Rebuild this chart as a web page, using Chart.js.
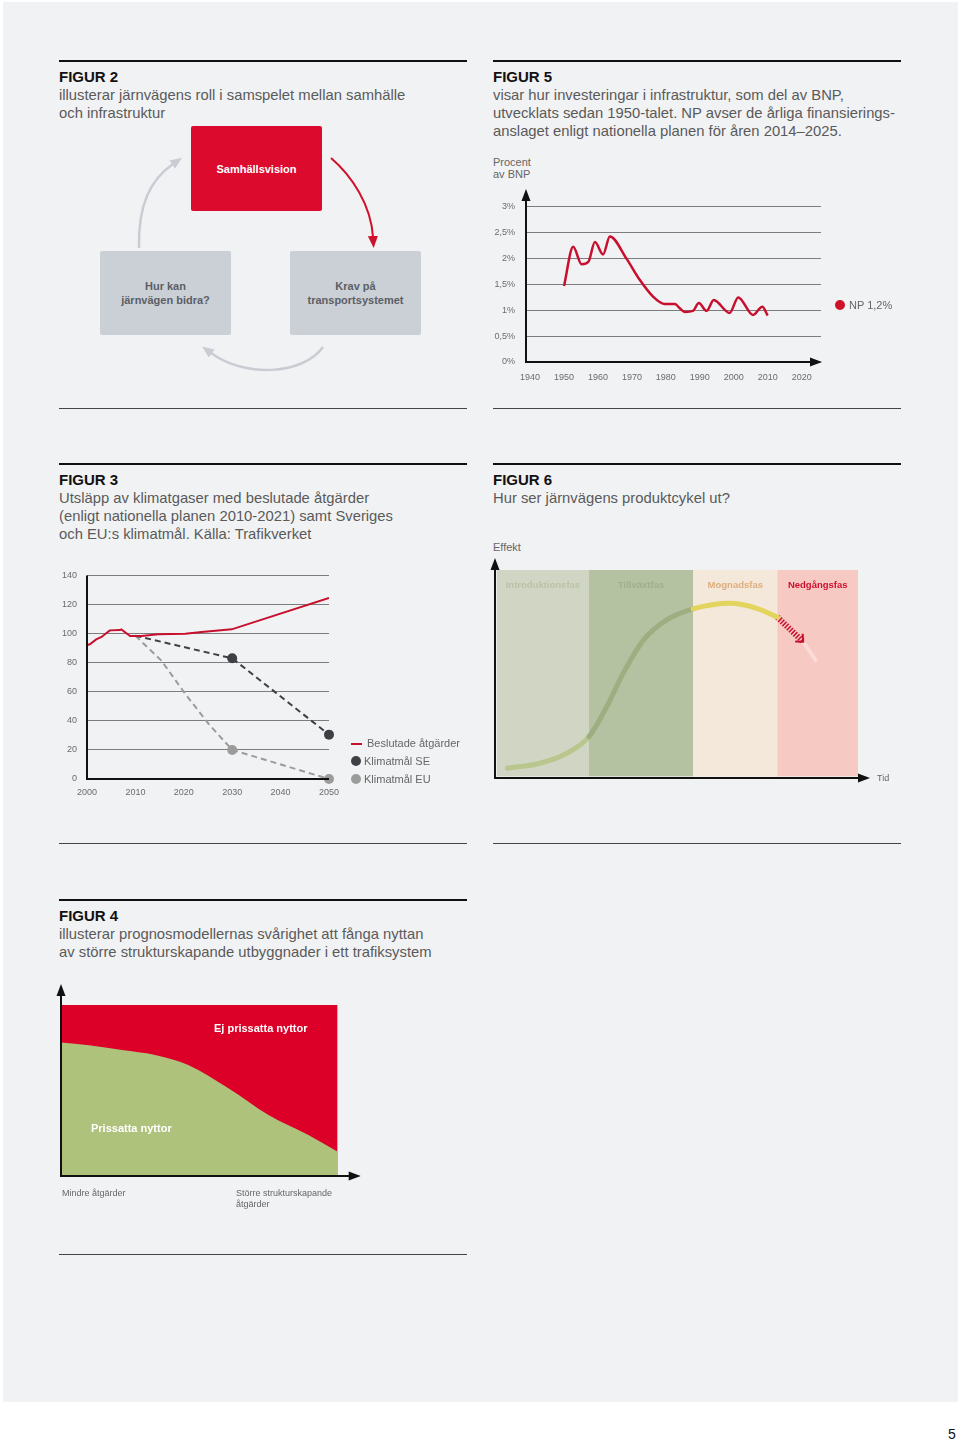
<!DOCTYPE html>
<html lang="sv">
<head>
<meta charset="utf-8">
<title>Figurer</title>
<script src="https://cdn.jsdelivr.net/npm/chart.js@4.4.1/dist/chart.umd.min.js"></script>
<style>
  html, body { margin: 0; padding: 0; }
  body { width: 960px; height: 1443px; position: relative; overflow: hidden; background: #fff;
         font-family: 'Liberation Sans', Arial, sans-serif; }
  .sida { position: absolute; left: 3px; top: 2px; width: 955px; height: 1400px; background: #f1f2f4; }
  .abs { position: absolute; }
  canvas { position: absolute; }
  .regel { position: absolute; width: 408px; height: 2px; background: #111; }
  .regel.tunn { height: 1px; background: #444; }
  .rubrik { position: absolute; width: 440px; font-size: 14.8px; line-height: 18px; color: #5a5a5a; }
  .rubrik b { display: block; color: #111; font-weight: 900; font-size: 15px; }
  .liten { position: absolute; font-size: 11px; line-height: 12px; color: #666; white-space: nowrap; }
  .pytte { position: absolute; font-size: 9px; line-height: 11px; color: #666; white-space: nowrap; }
  .ruta { position: absolute; width: 131px; height: 84px; border-radius: 2px; display: flex;
          align-items: center; justify-content: center; text-align: center;
          font-size: 11px; line-height: 14px; font-weight: bold; }
  .ruta.rod { background: #dc0a2d; color: #fff; }
  .ruta.gra { background: #cbcfd6; color: #5b5f66; }
  .prick { position: absolute; border-radius: 50%; }
  .vit { position: absolute; color: #fff; font-size: 11px; font-weight: bold; white-space: nowrap; line-height: 14px; }
</style>
</head>
<body>
<div class="sida"></div>

<!-- === Regler === -->
<div class="regel" style="left:59px;top:60px"></div>
<div class="regel" style="left:493px;top:60px"></div>
<div class="regel tunn" style="left:59px;top:408px"></div>
<div class="regel tunn" style="left:493px;top:408px"></div>
<div class="regel" style="left:59px;top:463px"></div>
<div class="regel" style="left:493px;top:463px"></div>
<div class="regel tunn" style="left:59px;top:843px"></div>
<div class="regel tunn" style="left:493px;top:843px"></div>
<div class="regel" style="left:59px;top:899px"></div>
<div class="regel tunn" style="left:59px;top:1254px"></div>

<!-- === Rubriker === -->
<div class="rubrik" style="left:59px;top:68px"><b>FIGUR 2</b>illusterar järnvägens roll i samspelet mellan samhälle<br>och infrastruktur</div>
<div class="rubrik" style="left:493px;top:68px"><b>FIGUR 5</b>visar hur investeringar i infrastruktur, som del av BNP,<br>utvecklats sedan 1950-talet. NP avser de årliga finansierings-<br>anslaget enligt nationella planen för åren 2014–2025.</div>
<div class="rubrik" style="left:59px;top:471px"><b>FIGUR 3</b>Utsläpp av klimatgaser med beslutade åtgärder<br>(enligt nationella planen 2010-2021) samt Sveriges<br>och EU:s klimatmål. Källa: Trafikverket</div>
<div class="rubrik" style="left:493px;top:471px"><b>FIGUR 6</b>Hur ser järnvägens produktcykel ut?</div>
<div class="rubrik" style="left:59px;top:907px"><b>FIGUR 4</b>illusterar prognosmodellernas svårighet att fånga nyttan<br>av större strukturskapande utbyggnader i ett trafiksystem</div>

<!-- === Figur 2: diagram === -->
<svg class="abs" style="left:0;top:0" width="480" height="420">
  <defs>
    <marker id="pilRod" viewBox="0 0 12 10" refX="1" refY="5" markerWidth="12" markerHeight="10" markerUnits="userSpaceOnUse" orient="auto">
      <path d="M0,0 L12,5 L0,10 z" fill="#d0112b"/>
    </marker>
    <marker id="pilGra" viewBox="0 0 12 10" refX="1" refY="5" markerWidth="12" markerHeight="10" markerUnits="userSpaceOnUse" orient="auto">
      <path d="M0,0 L12,5 L0,10 z" fill="#c9cdd3"/>
    </marker>
  </defs>
  <path d="M331,158 C352,176 371,205 373,237" fill="none" stroke="#d0112b" stroke-width="2" marker-end="url(#pilRod)"/>
  <path d="M139,248 C138,205 150,180 173,164" fill="none" stroke="#c9cdd3" stroke-width="2.5" marker-end="url(#pilGra)"/>
  <path d="M323,347 C303,375 245,378 211,353" fill="none" stroke="#c9cdd3" stroke-width="2.5" marker-end="url(#pilGra)"/>
</svg>
<div class="ruta rod" style="left:191px;top:126px;height:85px">Samhällsvision</div>
<div class="ruta gra" style="left:100px;top:251px">Hur kan<br>järnvägen bidra?</div>
<div class="ruta gra" style="left:290px;top:251px">Krav på<br>transportsystemet</div>

<!-- === Figur 5 === -->
<div class="liten" style="left:493px;top:156px">Procent<br>av BNP</div>
<canvas id="fig5" width="420" height="240" style="left:490px;top:150px"></canvas>
<div class="prick" style="left:835px;top:300px;width:10px;height:10px;background:#d0112b"></div>
<div class="liten" style="left:849px;top:299px">NP 1,2%</div>

<!-- === Figur 3 === -->
<canvas id="fig3" width="420" height="250" style="left:55px;top:560px"></canvas>
<div class="abs" style="left:351px;top:743px;width:11px;height:2px;background:#c8102e"></div>
<div class="liten" style="left:367px;top:737px">Beslutade åtgärder</div>
<div class="prick" style="left:351px;top:756px;width:10px;height:10px;background:#3f4046"></div>
<div class="liten" style="left:364px;top:755px">Klimatmål SE</div>
<div class="prick" style="left:351px;top:774px;width:10px;height:10px;background:#9b9b9b"></div>
<div class="liten" style="left:364px;top:773px">Klimatmål EU</div>

<!-- === Figur 6 === -->
<div class="liten" style="left:493px;top:541px">Effekt</div>
<canvas id="fig6" width="420" height="250" style="left:490px;top:540px"></canvas>
<div class="pytte" style="left:877px;top:773px">Tid</div>

<!-- === Figur 4 === -->
<canvas id="fig4" width="320" height="240" style="left:55px;top:975px"></canvas>
<div class="vit" style="left:214px;top:1021px">Ej prissatta nyttor</div>
<div class="vit" style="left:91px;top:1121px">Prissatta nyttor</div>
<div class="pytte" style="left:62px;top:1188px">Mindre åtgärder</div>
<div class="pytte" style="left:236px;top:1188px">Större strukturskapande<br>åtgärder</div>

<div class="abs" style="left:948px;top:1426px;font-size:14px;color:#111">5</div>

<script>
// === Daten: Figur 5 (investeringar, procent av BNP) ===
const bnpYears  = [1950, 1952.7, 1955.2, 1957.2, 1959.1, 1961.5, 1963.5, 1968.4, 1972.3, 1976.3, 1979.7, 1982.7, 1984.1, 1985.6, 1988, 1989.7, 1992, 1994.1, 1998.8, 2001.3, 2005.7, 2008.4, 2010];
const bnpValues = [1.47, 2.23, 1.89, 1.94, 2.32, 2.08, 2.43, 2.0, 1.59, 1.26, 1.12, 1.12, 1.04, 0.97, 0.99, 1.14, 0.99, 1.20, 0.95, 1.25, 0.91, 1.07, 0.90];
const bnpTicksX = [1940, 1950, 1960, 1970, 1980, 1990, 2000, 2010, 2020];
const bnpTicksY = [0, 0.5, 1, 1.5, 2, 2.5, 3];
const bnpLabelsY = ['0%', '0,5%', '1%', '1,5%', '2%', '2,5%', '3%'];

// === Daten: Figur 3 (utsläpp) ===
const utslappTicksX = [2000, 2010, 2020, 2030, 2040, 2050];
const utslappTicksY = [0, 20, 40, 60, 80, 100, 120, 140];
const beslutadeYears  = [2000, 2000.6, 2001.9, 2003, 2004.7, 2006.8, 2007.1, 2008.9, 2011.3, 2014.7, 2020.3, 2023.7, 2029.9, 2050];
const beslutadeValues = [92.2, 92.6, 96, 97.7, 102.2, 102.4, 102.9, 98.3, 98.3, 99.5, 99.9, 101, 102.9, 124.5];
const seYears  = [2010, 2030, 2050];
const seValues = [98.5, 83, 30.5];
const euYears  = [2010, 2015.4, 2020.3, 2025.1, 2030, 2050];
const euValues = [98.5, 81.3, 58.5, 38, 20, 0];

// === Daten: Figur 6 (produktcykel) ===
const faser   = ['Introduktionsfas', 'Tillväxtfas', 'Mognadsfas', 'Nedgångsfas'];
const fasStart = [0.5, 25.9, 54.6, 77.8];
const fasSlut  = [25.9, 54.6, 77.8, 100];
const cykelX = [3.4, 12.4, 19.8, 25.9, 30.8, 35.3, 40.9, 47.3, 54.6, 64.7, 72.1, 77.8];
const cykelY = [4.7, 7.1, 11.9, 19.9, 34.3, 50.3, 66.3, 76, 81.3, 84, 81.6, 77.3];
const nedgangX = [77.8, 84.9];
const nedgangY = [77.3, 65.5];
const svansX = [84.9, 88.6];
const svansY = [65.5, 55.9];

// === Daten: Figur 4 (nyttor) ===
const nyttaX      = [0, 10, 22, 34, 46, 60.5, 75, 89.4, 100];
const prissattaY  = [78, 76.5, 73.7, 70.8, 64.9, 51.3, 35.7, 24, 14.2];
const ejPrissattaX = [0, 100];
const ejPrissattaY = [100, 100];

// === Farben ===
const rod = '#c8102e';
const fasFarger = ['#d1d6c4', '#b5c2a2', '#f4e8da', '#f7c9c3'];
const fasTextFarger = ['#b9c3a6', '#a2ae8f', '#dfad7c', '#cf1030'];
const cykelFarger = ['#b9c78e', '#9fae81', '#e2d45d'];

const punkter = (xs, ys) => xs.map((x, i) => ({ x: x, y: ys[i] }));

Chart.defaults.font.family = "'Liberation Sans', Arial, sans-serif";
Chart.defaults.color = '#6b6b6b';

// === Plugin: axlar med pilar ===
const axelPilar = {
    id: 'axelPilar',
    afterDraw(chart, args, opt) {
        const { ctx, chartArea: a } = chart;
        const ex = opt.extX || 0, ey = opt.extY || 0;
        const spets = opt.pilar ? 11 : 0;
        ctx.save();
        ctx.strokeStyle = '#111';
        ctx.fillStyle = '#111';
        ctx.lineWidth = opt.bredd || 2;
        ctx.beginPath();
        ctx.moveTo(a.left, a.top - ey + spets);
        ctx.lineTo(a.left, a.bottom);
        ctx.lineTo(a.right + ex - spets, a.bottom);
        ctx.stroke();
        if (opt.pilar) {
            ctx.beginPath();
            ctx.moveTo(a.left, a.top - ey);
            ctx.lineTo(a.left - 4.5, a.top - ey + 12);
            ctx.lineTo(a.left + 4.5, a.top - ey + 12);
            ctx.closePath();
            ctx.fill();
            ctx.beginPath();
            ctx.moveTo(a.right + ex, a.bottom);
            ctx.lineTo(a.right + ex - 12, a.bottom - 4.5);
            ctx.lineTo(a.right + ex - 12, a.bottom + 4.5);
            ctx.closePath();
            ctx.fill();
        }
        ctx.restore();
    }
};

// === Plugin: faser i figur 6 ===
const fasBand = {
    id: 'fasBand',
    beforeDatasetsDraw(chart) {
        const { ctx, scales: { x, y } } = chart;
        ctx.save();
        faser.forEach((namn, i) => {
            const x0 = x.getPixelForValue(fasStart[i]);
            const x1 = x.getPixelForValue(fasSlut[i]);
            const y0 = y.getPixelForValue(100);
            const y1 = y.getPixelForValue(0.8);
            ctx.fillStyle = fasFarger[i];
            ctx.fillRect(x0, y0, x1 - x0, y1 - y0);
            ctx.fillStyle = fasTextFarger[i];
            ctx.font = "bold 9.5px 'Liberation Sans', Arial, sans-serif";
            ctx.textAlign = 'center';
            ctx.textBaseline = 'middle';
            ctx.fillText(namn, (x0 + x1) / 2, y0 + 15);
        });
        ctx.restore();
    },
    afterDatasetsDraw(chart) {
        // pilspets på nedgången
        const pts = chart.getDatasetMeta(1).data;
        const p0 = pts[0], p1 = pts[pts.length - 1];
        const vinkel = Math.atan2(p1.y - p0.y, p1.x - p0.x);
        const ctx = chart.ctx;
        ctx.save();
        ctx.strokeStyle = rod;
        ctx.lineWidth = 2;
        ctx.beginPath();
        ctx.moveTo(p1.x + 8 * Math.cos(vinkel - 2.4), p1.y + 8 * Math.sin(vinkel - 2.4));
        ctx.lineTo(p1.x, p1.y);
        ctx.lineTo(p1.x + 8 * Math.cos(vinkel + 2.4), p1.y + 8 * Math.sin(vinkel + 2.4));
        ctx.stroke();
        ctx.restore();
    }
};

// === Figur 5 ===
new Chart(document.getElementById('fig5'), {
    type: 'line',
    data: {
        datasets: [{
            data: punkter(bnpYears, bnpValues),
            borderColor: rod,
            borderWidth: 2.5,
            pointRadius: 0,
            cubicInterpolationMode: 'monotone'
        }]
    },
    options: {
        responsive: false,
        animation: false,
        events: [],
        layout: { padding: { top: 50, right: 89, left: 0, bottom: 0 } },
        plugins: {
            legend: { display: false },
            tooltip: { enabled: false },
            axelPilar: { pilar: true, extX: 1, extY: 11 }
        },
        scales: {
            x: {
                type: 'linear', min: 1938.8, max: 2025.7,
                grid: { display: false, drawTicks: false },
                border: { display: false },
                afterBuildTicks: s => { s.ticks = bnpTicksX.map(v => ({ value: v })); },
                afterFit: s => { s.height = 28; },
                ticks: { font: { size: 9 }, padding: 10, maxRotation: 0, callback: v => String(v) }
            },
            y: {
                min: 0, max: 3.135,
                grid: { color: '#7d7d7d', lineWidth: 1, drawTicks: false },
                border: { display: false },
                afterBuildTicks: s => { s.ticks = bnpTicksY.map(v => ({ value: v })); },
                afterFit: s => { s.width = 36; },
                ticks: { font: { size: 9 }, padding: 11, callback: (v, i) => bnpLabelsY[i] }
            }
        }
    },
    plugins: [axelPilar]
});

// === Figur 3 ===
new Chart(document.getElementById('fig3'), {
    type: 'line',
    data: {
        datasets: [{
            data: punkter(beslutadeYears, beslutadeValues),
            borderColor: rod,
            borderWidth: 2,
            pointRadius: 0,
            tension: 0
        }, {
            data: punkter(seYears, seValues),
            borderColor: '#3f4046',
            backgroundColor: '#3f4046',
            borderWidth: 2,
            borderDash: [6, 4],
            pointRadius: [0, 5, 5],
            pointBorderWidth: 0,
            clip: false
        }, {
            data: punkter(euYears, euValues),
            borderColor: '#9b9b9b',
            backgroundColor: '#9b9b9b',
            borderWidth: 2,
            borderDash: [6, 4],
            pointRadius: [0, 0, 0, 0, 5, 5],
            pointBorderWidth: 0,
            tension: 0,
            clip: false
        }]
    },
    options: {
        responsive: false,
        animation: false,
        events: [],
        layout: { padding: { top: 14, right: 146, left: 0, bottom: 0 } },
        plugins: {
            legend: { display: false },
            tooltip: { enabled: false },
            axelPilar: { pilar: false }
        },
        scales: {
            x: {
                type: 'linear', min: 2000, max: 2050,
                grid: { display: false, drawTicks: false },
                border: { display: false },
                afterBuildTicks: s => { s.ticks = utslappTicksX.map(v => ({ value: v })); },
                afterFit: s => { s.height = 31; },
                ticks: { font: { size: 9 }, padding: 8, maxRotation: 0, callback: v => String(v) }
            },
            y: {
                min: 0, max: 140,
                grid: { color: '#7d7d7d', lineWidth: 1, drawTicks: false },
                border: { display: false },
                afterBuildTicks: s => { s.ticks = utslappTicksY.map(v => ({ value: v })); },
                afterFit: s => { s.width = 32; },
                ticks: { font: { size: 9 }, padding: 10, callback: v => String(v) }
            }
        }
    },
    plugins: [axelPilar]
});

// === Figur 6 ===
new Chart(document.getElementById('fig6'), {
    type: 'line',
    data: {
        datasets: [{
            data: punkter(cykelX, cykelY),
            borderWidth: 5,
            borderCapStyle: 'round',
            pointRadius: 0,
            cubicInterpolationMode: 'monotone',
            segment: {
                borderColor: c => c.p0.parsed.x < fasSlut[0] ? cykelFarger[0]
                    : (c.p0.parsed.x < fasSlut[1] ? cykelFarger[1] : cykelFarger[2])
            }
        }, {
            data: punkter(nedgangX, nedgangY),
            borderColor: rod,
            borderWidth: 6,
            borderDash: [1.5, 1.5],
            pointRadius: 0
        }, {
            data: punkter(svansX, svansY),
            borderColor: 'rgba(255,232,232,0.55)',
            borderWidth: 4,
            pointRadius: 0
        }]
    },
    options: {
        responsive: false,
        animation: false,
        events: [],
        layout: { padding: { top: 30, right: 52, left: 5, bottom: 12 } },
        plugins: {
            legend: { display: false },
            tooltip: { enabled: false },
            axelPilar: { pilar: true, extX: 12, extY: 12 }
        },
        scales: {
            x: { type: 'linear', min: 0, max: 100, display: false },
            y: { min: 0, max: 100, display: false }
        }
    },
    plugins: [fasBand, axelPilar]
});

// === Figur 4 ===
new Chart(document.getElementById('fig4'), {
    type: 'line',
    data: {
        datasets: [{
            data: punkter(nyttaX, prissattaY),
            borderWidth: 0,
            borderColor: 'rgba(0,0,0,0)',
            backgroundColor: '#aec27c',
            fill: 'origin',
            pointRadius: 0,
            cubicInterpolationMode: 'monotone',
            order: 1
        }, {
            data: punkter(ejPrissattaX, ejPrissattaY),
            borderWidth: 0,
            borderColor: 'rgba(0,0,0,0)',
            backgroundColor: '#dc0028',
            fill: 'origin',
            pointRadius: 0,
            order: 2
        }]
    },
    options: {
        responsive: false,
        animation: false,
        events: [],
        layout: { padding: { top: 30, right: 37.3, left: 6, bottom: 39 } },
        plugins: {
            legend: { display: false },
            tooltip: { enabled: false },
            axelPilar: { pilar: true, extX: 23, extY: 21 }
        },
        scales: {
            x: { type: 'linear', min: 0, max: 100, display: false },
            y: { min: 0, max: 100, display: false }
        }
    },
    plugins: [axelPilar]
});
</script>
</body>
</html>
